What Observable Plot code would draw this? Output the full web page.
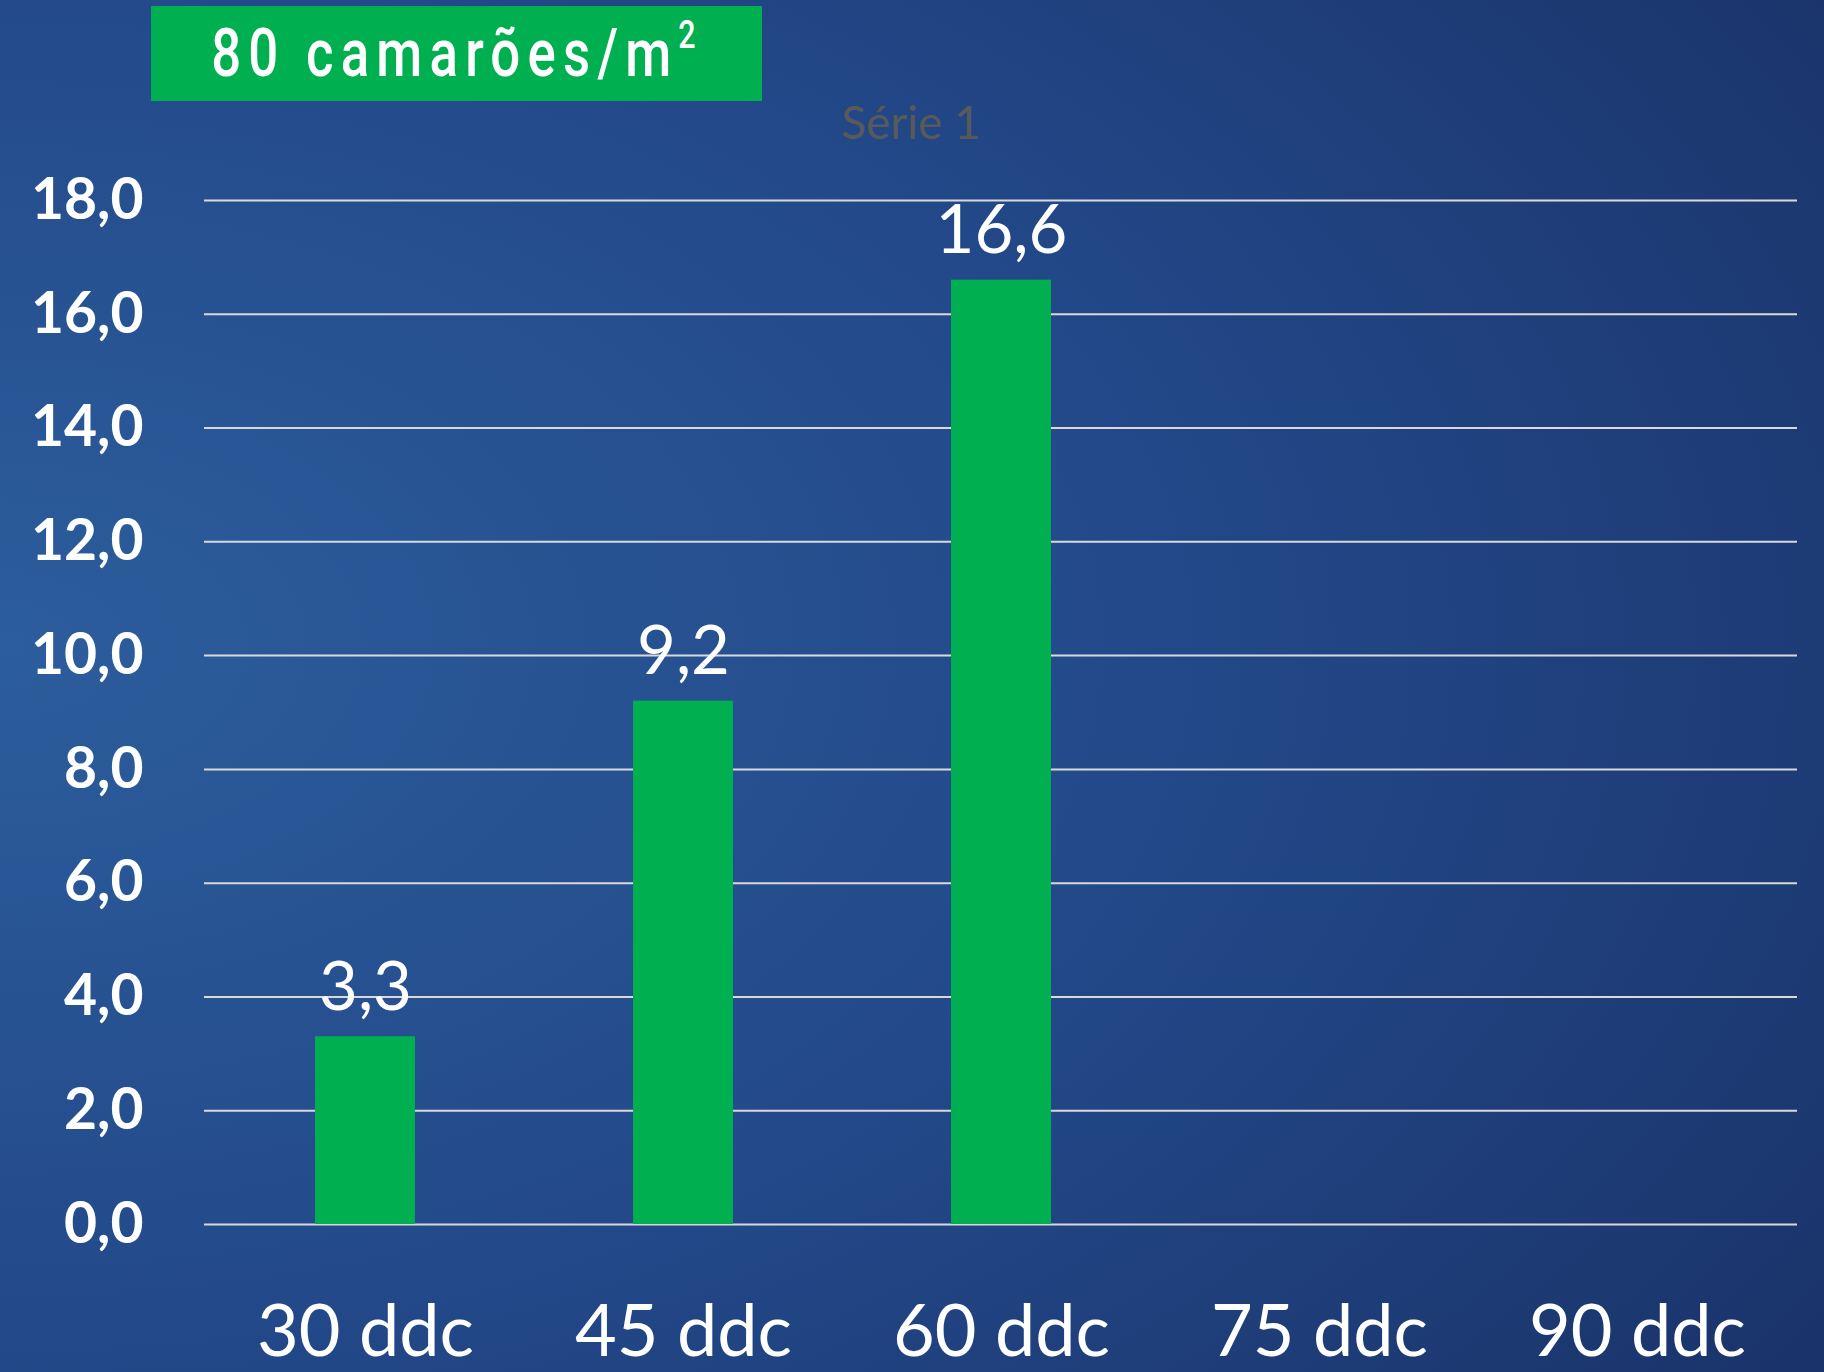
<!DOCTYPE html>
<html>
<head>
<meta charset="utf-8">
<script src="https://cdn.jsdelivr.net/npm/d3@7"></script>
<script src="https://cdn.jsdelivr.net/npm/@observablehq/plot@0.6"></script>
<style>
  html, body { margin: 0; padding: 0; width: 1824px; height: 1372px; overflow: hidden; }
  #wrap { position: relative; width: 1824px; height: 1372px; }
  #title {
    position: absolute; left: 151px; top: 6px; width: 611px; height: 95px;
    background: #00b050; z-index: 2;
  }
  #title span {
    position: absolute; left: 50%; top: 0;
    transform: translateX(-50%) scaleX(0.8);
    white-space: nowrap; color: #fff;
    font-family: Roboto, "DejaVu Sans", sans-serif; font-weight: 500;
    font-size: 66px; letter-spacing: 9px; line-height: 95px;
  }
  #title sup { font-size: 38px; vertical-align: 28px; line-height: 0; }
  #subtitle {
    position: absolute; left: 0; top: 94px; width: 1822px; text-align: center;
    font-family: Lato, "Open Sans", sans-serif; font-size: 46px; color: #595959;
    z-index: 2;
  }
  #chart { position: absolute; left: 0; top: 0; }
</style>
</head>
<body>
<div id="wrap">
  <div id="chart"></div>
  <div id="title"><span>80 camarões/m<sup>2</sup></span></div>
  <div id="subtitle">Série 1</div>
</div>
<script>
const categories = ["30 ddc", "45 ddc", "60 ddc", "75 ddc", "90 ddc"];
const values = [3.3, 9.2, 16.6, null, null];
const yTicks = [0, 2, 4, 6, 8, 10, 12, 14, 16, 18];

const data = categories.map((c, i) => ({cat: c, v: values[i]}));
const bars = data.filter(d => d.v != null);
const fmt = v => v.toFixed(1).replace(".", ",");

const chart = Plot.plot({
  width: 1824,
  height: 1372,
  marginLeft: 204,
  marginRight: 27,
  marginTop: 200,
  marginBottom: 148,
  style: {
    background: "radial-gradient(ellipse 140% 110% at 0% 47%, #2c5d9c 0%, #23498a 45%, #172c5f 100%)",
    fontFamily: "Lato, 'Open Sans', sans-serif",
    color: "#ffffff"
  },
  x: {domain: categories, paddingInner: 0.686, paddingOuter: 0.343, label: null},
  y: {domain: [0, 18], label: null},
  marks: [
    Plot.ruleY(yTicks, {stroke: "#d9d9d9", strokeWidth: 2}),
    Plot.barY(bars, {x: "cat", y: "v", fill: "#00b050"}),
    Plot.text(bars, {x: "cat", y: "v", text: d => fmt(d.v), fill: "#ffffff", fontSize: 67, lineAnchor: "bottom", dy: -27}),
    Plot.axisY({ticks: yTicks, tickFormat: fmt, tickSize: 0, tickPadding: 61, fontSize: 57, fontWeight: "bold", fill: "#ffffff", label: null}),
    Plot.axisX({tickSize: 0, tickPadding: 80, fontSize: 72, fill: "#ffffff", label: null, style: {letterSpacing: "3px"}})
  ]
});
document.getElementById("chart").appendChild(chart);
</script>
</body>
</html>
